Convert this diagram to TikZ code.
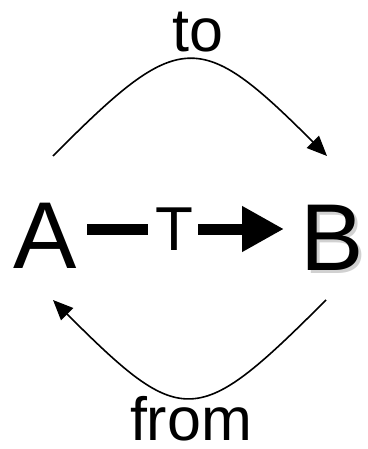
\documentclass[tikz,border=0pt]{standalone}
\usepackage{fontspec}
\setmainfont{Liberation Sans}
\usetikzlibrary{arrows.meta}
\begin{document}
\begin{tikzpicture}[x=1pt,y=-1pt,
  lbl/.style={inner sep=0pt,anchor=base},
  curvearrow/.style={line width=1.6pt,-{Triangle[length=20pt,width=17pt]}},
  thickbar/.style={line width=11pt}]
\useasboundingbox (0,0) rectangle (367,449);
\node[lbl] (A) at (45,268) {\fontsize{95}{95}\selectfont A};
\node[lbl,text=black!18] (Bs) at (335,273) {\fontsize{95}{95}\selectfont B};
\node[lbl] (B) at (332,270) {\fontsize{95}{95}\selectfont B};
\node[lbl] (T) at (174,250) {\fontsize{62}{62}\selectfont T};
\node[lbl] (to) at (198,52) {\fontsize{61}{61}\selectfont to};
\node[lbl] (from) at (191,440) {\fontsize{61}{61}\selectfont from};
\coordinate (a1) at (87,229);
\coordinate (t1) at (148,229);
\coordinate (t2) at (198,229);
\coordinate (b1) at (284,229);
\coordinate (ts) at (53,156);
\coordinate (te) at (327,156);
\coordinate (fs) at (326,300);
\coordinate (fe) at (53,300);
\draw[thickbar] (a1) -- (t1);
\draw[thickbar,-{Triangle[length=42pt,width=43pt]}] (t2) -- (b1);
\draw[curvearrow] (ts) .. controls (180,28) and (199,28) .. (te);
\draw[curvearrow] (fs) .. controls (197,429) and (183,430) .. (fe);
\end{tikzpicture}
\end{document}
